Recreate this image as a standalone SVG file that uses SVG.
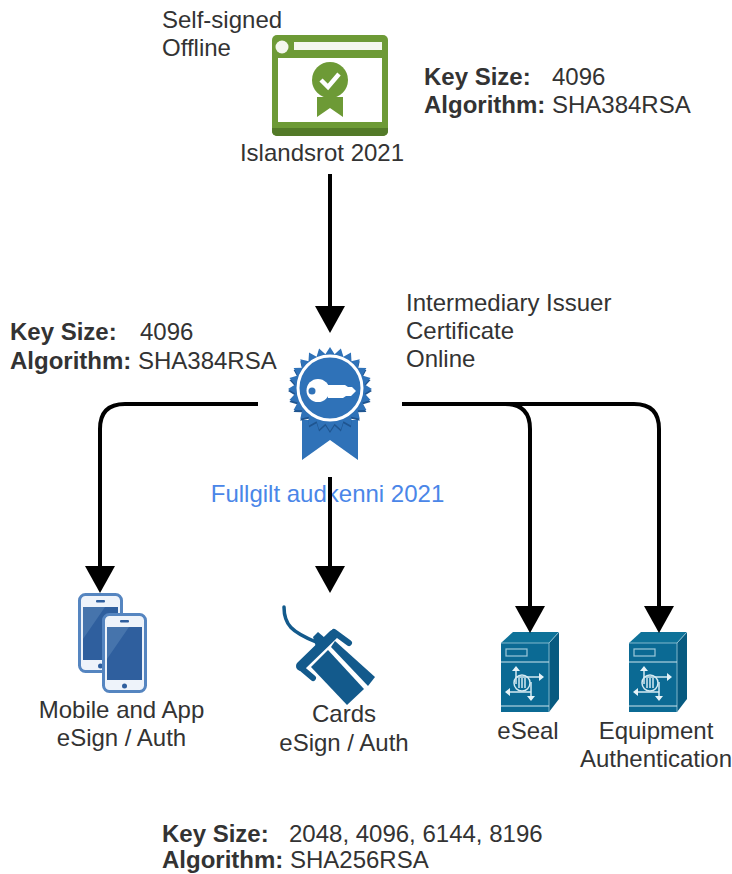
<svg xmlns="http://www.w3.org/2000/svg" width="732" height="874" viewBox="0 0 732 874">
<style>
text{font-family:"Liberation Sans",Arial,sans-serif;font-size:24px;fill:#333}
.c{text-anchor:middle}
.b{font-weight:bold}
.conn{fill:none;stroke:#000;stroke-width:4}
.srvl{fill:none;stroke:#d5eaf2;stroke-width:1.500}
.srva{fill:#e6f3f8}
.card{fill:none;stroke:#135a8c;stroke-linecap:round;stroke-linejoin:round}
</style>
<defs>
<marker id="arrow" markerUnits="userSpaceOnUse" markerWidth="27" markerHeight="30" refX="0" refY="15" orient="auto" viewBox="0 0 27 30"><path d="M0 0L27 15L0 30Z" fill="#000"/></marker>
<path id="q" d="M0 0H42L34.700 4.600L40.600 10.900L32.300 13.400L36.400 21L27.800 21.300L29.700 29.700L21.300 27.800L21 36.400L13.400 32.300L10.900 40.600L4.600 34.700L0 42Z"/>
<g id="seal"><use href="#q"/><use href="#q" transform="rotate(90)"/><use href="#q" transform="rotate(180)"/><use href="#q" transform="rotate(270)"/></g>
<g id="server">
<path d="M48 11L58 0V67L48 80Z" fill="#075a80"/>
<path d="M0 11L12 0H58L48 11Z" fill="#0e7299"/>
<rect x="0" y="11" width="48" height="69" fill="#0b6a94"/>
<path d="M0 11H48M48 11L58 0M48 11V80" stroke="#9fcbdc" stroke-width=".8" fill="none"/>
<path d="M0 30H48M0 74H48" stroke="#cfe6ee" stroke-width="1"/>
<rect x="5" y="17" width="21" height="7" fill="none" stroke="#9cc9da" stroke-width="1.200"/>
<circle class="srvl" cx="21" cy="51" r="8"/>
<path class="srvl" d="M15 37V52M15 45H38M8 60H30M30 50V65M18 46V56M21 46V56M24 46V56"/>
<path class="srva" d="M15 34L11 39H19ZM43 45L38 41V49ZM4 60L9 56V64ZM30 69L26 64H34Z"/>
</g>
<g id="phone">
<rect x="1.500" y="1.500" width="42" height="77" rx="6" fill="#eef3fa" stroke="#5585c0" stroke-width="3"/>
<rect x="5" y="14" width="35" height="53" fill="#2f5f9e"/>
<path d="M5 14H27L5 46Z" fill="#4674ac"/>
<rect x="18" y="7" width="9" height="2.500" rx="1" fill="#2f5f9e"/>
<circle cx="22.500" cy="73" r="2.500" fill="#2f5f9e"/>
</g>
</defs>
<g id="root-note"><text x="162" y="27.500">Self-signed</text><text x="162" y="55.500">Offline</text></g>
<g id="root-key"><text x="424" y="84.500"><tspan class="b">Key Size:</tspan><tspan x="552">4096</tspan></text><text x="424" y="112.500"><tspan class="b">Algorithm:</tspan> SHA384RSA</text></g>
<g id="islandsrot">
<rect x="272" y="35" width="116" height="101" rx="5" fill="#6d9a36"/>
<path d="M272 128H388V131a5 5 0 0 1-5 5H277a5 5 0 0 1-5-5Z" fill="#537a28"/>
<rect x="278" y="58" width="104" height="64" fill="#fff"/>
<circle cx="282" cy="47" r="6.500" fill="#f4f7ee"/>
<rect x="294" y="42" width="88" height="8" fill="#f4f7ee"/>
<circle cx="330" cy="80" r="18" fill="#6d9a36"/>
<path d="M321 80L328 87L339 74" fill="none" stroke="#fff" stroke-width="4.500"/>
<path d="M317 97H343V117L330 108L317 117Z" fill="#6d9a36"/>
<text class="c" x="322" y="161">Islandsrot 2021</text>
</g>
<g id="int-key"><text x="10" y="340"><tspan class="b">Key Size:</tspan><tspan x="140">4096</tspan></text><text x="10" y="369"><tspan class="b">Algorithm:</tspan> SHA384RSA</text></g>
<g id="int-note"><text x="406" y="311">Intermediary Issuer</text><text x="406" y="339">Certificate</text><text x="406" y="367">Online</text></g>
<g id="fullgilt">
<path d="M302 420H358V460L330 440L302 460Z" fill="#2f72b8"/>
<use href="#seal" transform="translate(330 391)" fill="#1f5590"/>
<use href="#seal" transform="translate(330 389)" fill="#2f72b8"/>
<circle cx="330" cy="388" r="32" fill="#2f72b8" stroke="#fff" stroke-width="3"/>
<circle cx="318" cy="390.500" r="11.500" fill="#fff"/>
<path d="M326 385H345L348 387L352 387L356 391L351 396H346L343 398L328 398Z" fill="#fff"/>
<circle cx="312" cy="391" r="3.500" fill="#2f72b8"/>
<text class="c" x="327.500" y="502" style="fill:#4a86e8">Fullgilt audkenni 2021</text>
</g>
<g id="mobile">
<use href="#phone" x="78" y="593"/>
<use href="#phone" x="102" y="613"/>
<text class="c" x="121.500" y="718">Mobile and App</text><text class="c" x="121.500" y="746">eSign / Auth</text>
</g>
<g id="cards">
<path class="card" stroke-width="3.500" d="M284 607C284 625 292 632 316 642"/>
<path class="card" stroke-width="10" d="M301 666L333 635"/>
<path class="card" stroke-width="6" d="M334 632L349 643M300 667L313 678"/>
<path d="M313 637L318 632L325 638L316 647Z" fill="#135a8c"/>
<path d="M311 667L328 650L364 689L347 705Z" fill="#135a8c"/>
<path d="M331 647L335 641L375 677L368 686Z" fill="#135a8c"/>
<text class="c" x="344" y="722">Cards</text><text class="c" x="344" y="751">eSign / Auth</text>
</g>
<g id="eseal"><use href="#server" x="501" y="632"/><text class="c" x="528" y="739">eSeal</text></g>
<g id="equipment"><use href="#server" x="629" y="632"/><text class="c" x="656" y="739">Equipment</text><text class="c" x="656" y="767">Authentication</text></g>
<g id="leaf-key"><text x="162" y="842"><tspan class="b">Key Size:</tspan><tspan x="289">2048, 4096, 6144, 8196</tspan></text><text x="162" y="868"><tspan class="b">Algorithm:</tspan> SHA256RSA</text></g>
<g id="connectors">
<path class="conn" d="M330 174V306" marker-end="url(#arrow)"/>
<path class="conn" d="M258 404H125Q100 404 100 429V566" marker-end="url(#arrow)"/>
<path class="conn" d="M330 477V566" marker-end="url(#arrow)"/>
<path class="conn" d="M402 404H505Q530 404 530 429V606" marker-end="url(#arrow)"/>
<path class="conn" d="M402 404H634Q659 404 659 429V606" marker-end="url(#arrow)"/>
</g>
</svg>
